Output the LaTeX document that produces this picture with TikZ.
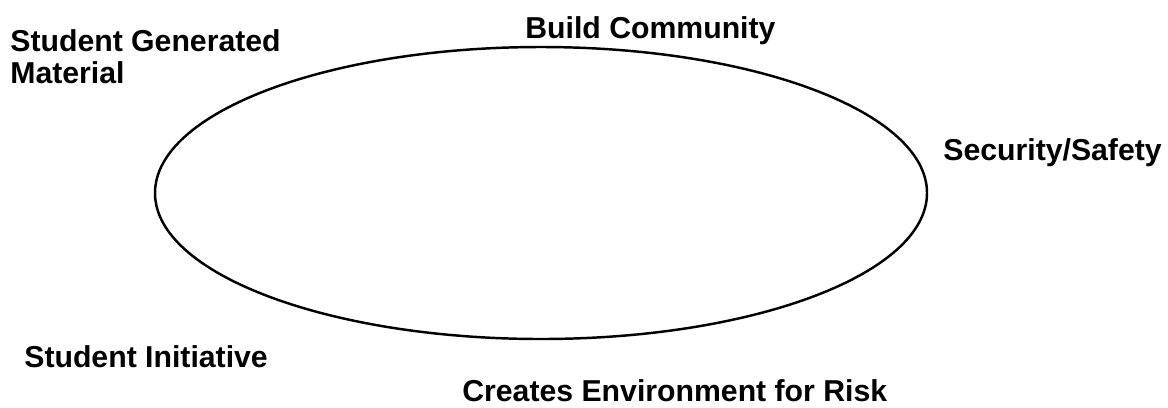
\documentclass[tikz,border=0pt]{standalone}
\usepackage{fontspec}
\setmainfont{Liberation Sans}
\usetikzlibrary{positioning}
\tikzset{
  label/.style={anchor=base west,font=\fontsize{17.2}{18.2}\selectfont\bfseries,
                inner sep=0pt,align=left},
  ring/.style={draw=black,line width=1.4pt}
}
\begin{document}
\begin{tikzpicture}[x=0.02cm,y=-0.02cm]
  \useasboundingbox (0,0) rectangle (1168,407);
  % the loop
  \draw[ring] (541,193) ellipse [x radius=386,y radius=146];
  % texts around it
  \node[label] (build) at (525,38) {Build Community};
  \node[label] (material) at (10,83) {Student Generated\\Material};
  \node[label] (safety) at (943,160) {Security/Safety};
  \node[label] (initiative) at (24,367) {Student Initiative};
  \node[label] (risk) at (462,401) {Creates Environment for Risk};
\end{tikzpicture}
\end{document}
